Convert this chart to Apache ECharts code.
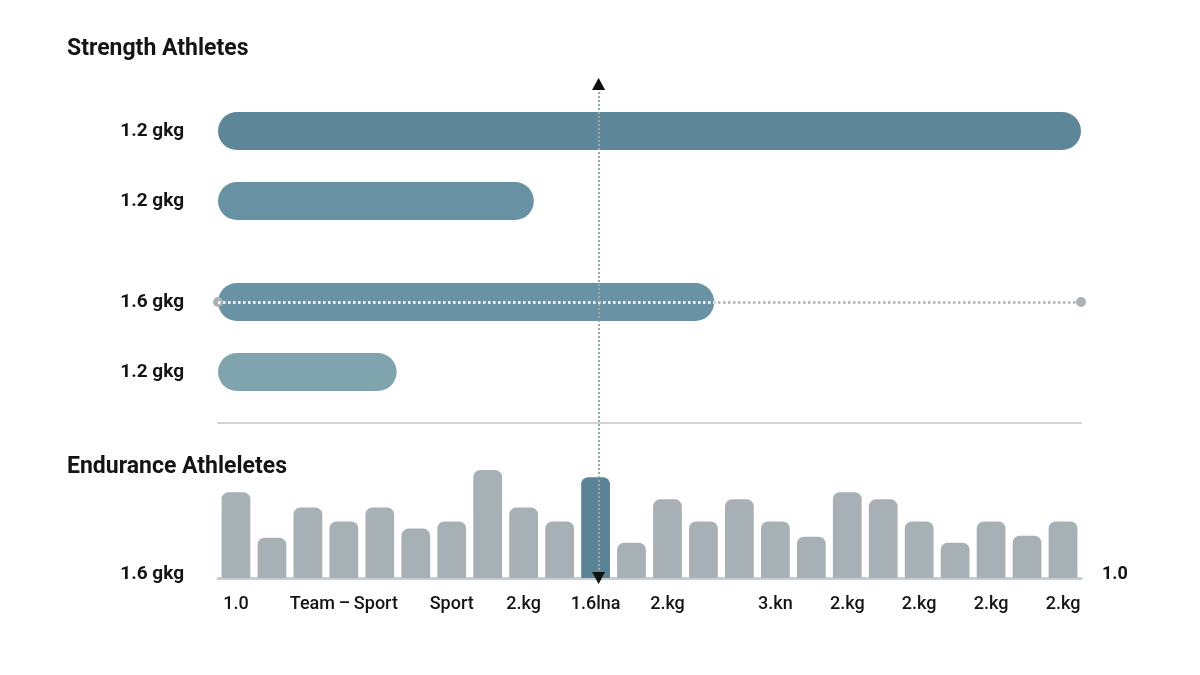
<!DOCTYPE html>
<html>
<head>
<meta charset="utf-8">
<script src="https://cdn.jsdelivr.net/npm/echarts@6/dist/echarts.min.js"></script>
<style>
  html, body { margin: 0; padding: 0; background: #ffffff; }
  #chart { width: 1200px; height: 675px; }
</style>
</head>
<body>
<div id="chart"></div>
<script>
// ---- Data ----
var strengthLabels = ['1.2 gkg', '1.2 gkg', '1.6 gkg', '1.2 gkg'];
var strengthValues = [100, 36.6, 57.5, 20.7];
var strengthMax = 100;
var crossValue = 44.1;           // vertical reference line position (top scale)
var refBarIndex = 2;             // bar carrying the horizontal dotted reference

var enduranceLabels = ['1.0', '', '', 'Team\u2009\u2013\u2009Sport', '', '', 'Sport', '', '2.kg', '', '1.6lna', '',
                       '2.kg', '', '', '3.kn', '', '2.kg', '', '2.kg', '', '2.kg', '', '2.kg'];
var enduranceValues = [85, 40, 70, 56, 70, 49, 56, 107, 70, 56, 100, 35,
                       78, 56, 78, 56, 41, 85, 78, 56, 35, 56, 42, 56];
var enduranceHighlight = 10;
var enduranceLeftLabel = '1.6 gkg';
var enduranceRightLabel = '1.0';

// ---- Chart ----
var chart = echarts.init(document.getElementById('chart'), null, { renderer: 'canvas' });
var FONT = 'Roboto, "Noto Sans", sans-serif';
var strengthColors = ['#5e8699', '#6892a3', '#6993a4', '#80a4ae'];

var topA = strengthLabels.slice(0, 2), topB = strengthLabels.slice(2);
var valA = strengthValues.slice(0, 2), valB = strengthValues.slice(2);

function barItems(vals, offset) {
  return vals.map(function (v, i) {
    return { value: v, itemStyle: { color: strengthColors[offset + i] } };
  });
}

var catLabelStyle = { fontFamily: FONT, fontSize: 19, fontWeight: 'bold', color: '#141414', margin: 34 };

var refV = strengthValues[refBarIndex];
var refIdx = refBarIndex - 2;

var option = {
  backgroundColor: '#ffffff',
  animation: false,
  title: [
    { text: 'Strength Athletes', left: 62, top: 33,
      textStyle: { fontFamily: FONT, fontSize: 23, fontWeight: 'bold', color: '#141414' } },
    { text: 'Endurance Athleletes', left: 62, top: 451,
      textStyle: { fontFamily: FONT, fontSize: 23, fontWeight: 'bold', color: '#141414' } }
  ],
  grid: [
    { left: 218, right: 119, top: 96, height: 140 },
    { left: 218, right: 119, top: 267, height: 140 },
    { left: 218, right: 119, top: 457, bottom: 97 },
    { left: 218, right: 119, top: 84, bottom: 97 }
  ],
  xAxis: [
    { gridIndex: 0, type: 'value', min: 0, max: strengthMax, show: false },
    { gridIndex: 1, type: 'value', min: 0, max: strengthMax, position: 'bottom', offset: 16,
      axisLine: { show: true, lineStyle: { color: '#cfd5d8', width: 2 } },
      axisTick: { show: false }, axisLabel: { show: false }, splitLine: { show: false } },
    { gridIndex: 2, type: 'category', data: enduranceLabels,
      axisLine: { show: true, lineStyle: { color: '#c6ced1', width: 3 } },
      axisTick: { show: false },
      axisLabel: { interval: 0, margin: 17, fontFamily: FONT, fontSize: 18, fontWeight: 500, color: '#141414' } },
    { gridIndex: 3, type: 'value', min: 0, max: strengthMax, show: false }
  ],
  yAxis: [
    { gridIndex: 0, type: 'category', data: topA, inverse: true,
      axisLine: { show: false }, axisTick: { show: false }, axisLabel: catLabelStyle },
    { gridIndex: 1, type: 'category', data: topB, inverse: true,
      axisLine: { show: false }, axisTick: { show: false }, axisLabel: catLabelStyle },
    { gridIndex: 2, type: 'value', min: 0, max: 120, interval: 120,
      axisLine: { show: false }, axisTick: { show: false }, splitLine: { show: false },
      axisLabel: { margin: 34, fontFamily: FONT, fontSize: 19, fontWeight: 'bold', color: '#141414',
        verticalAlign: 'bottom', lineHeight: 8,
        formatter: function (v) { return v === 0 ? enduranceLeftLabel : ''; } } },
    { gridIndex: 2, type: 'value', position: 'right', min: 0, max: 120, interval: 120,
      axisLine: { show: false }, axisTick: { show: false }, splitLine: { show: false },
      axisLabel: { margin: 21, fontFamily: FONT, fontSize: 18, fontWeight: 'bold', color: '#141414',
        verticalAlign: 'bottom', lineHeight: 8,
        formatter: function (v) { return v === 0 ? enduranceRightLabel : ''; } } },
    { gridIndex: 3, type: 'value', min: 0, max: 1, show: false }
  ],
  series: [
    { type: 'bar', xAxisIndex: 0, yAxisIndex: 0, data: barItems(valA, 0), barWidth: 38,
      itemStyle: { borderRadius: 19 } },
    { type: 'bar', xAxisIndex: 1, yAxisIndex: 1, data: barItems(valB, 2), barWidth: 38,
      itemStyle: { borderRadius: 19 },
      markLine: {
        silent: true, animation: false,
        label: { show: false },
        data: [
          [ { coord: [0, refIdx], symbol: 'circle', symbolSize: 10,
              lineStyle: { color: '#a9b3b6', type: 'dotted', width: 2.5 } },
            { coord: [strengthMax, refIdx], symbol: 'circle', symbolSize: 10 } ],
          [ { coord: [0, refIdx], symbol: 'none',
              lineStyle: { color: '#ffffff', type: 'dotted', width: 2.5 } },
            { coord: [refV, refIdx], symbol: 'none' } ]
        ]
      } },
    { type: 'bar', xAxisIndex: 2, yAxisIndex: 2, barWidth: '80%',
      data: enduranceValues.map(function (v, i) {
        return { value: v, itemStyle: { color: i === enduranceHighlight ? '#5a8397' : '#a7b1b5' } };
      }),
      itemStyle: { borderRadius: [7, 7, 0, 0] } },
    { type: 'line', xAxisIndex: 3, yAxisIndex: 4, data: [[crossValue, 0.5]], showSymbol: false,
      lineStyle: { opacity: 0 },
      markLine: {
        silent: true, animation: false, label: { show: false },
        symbol: ['triangle', 'triangle'], symbolSize: [13, 12],
        data: [
          { xAxis: crossValue, lineStyle: { color: '#93abae', type: 'dotted', width: 2 } },
          { xAxis: crossValue, lineStyle: { color: '#111111', width: 0 } }
        ]
      } }
  ]
};
chart.setOption(option);
</script>
</body>
</html>
